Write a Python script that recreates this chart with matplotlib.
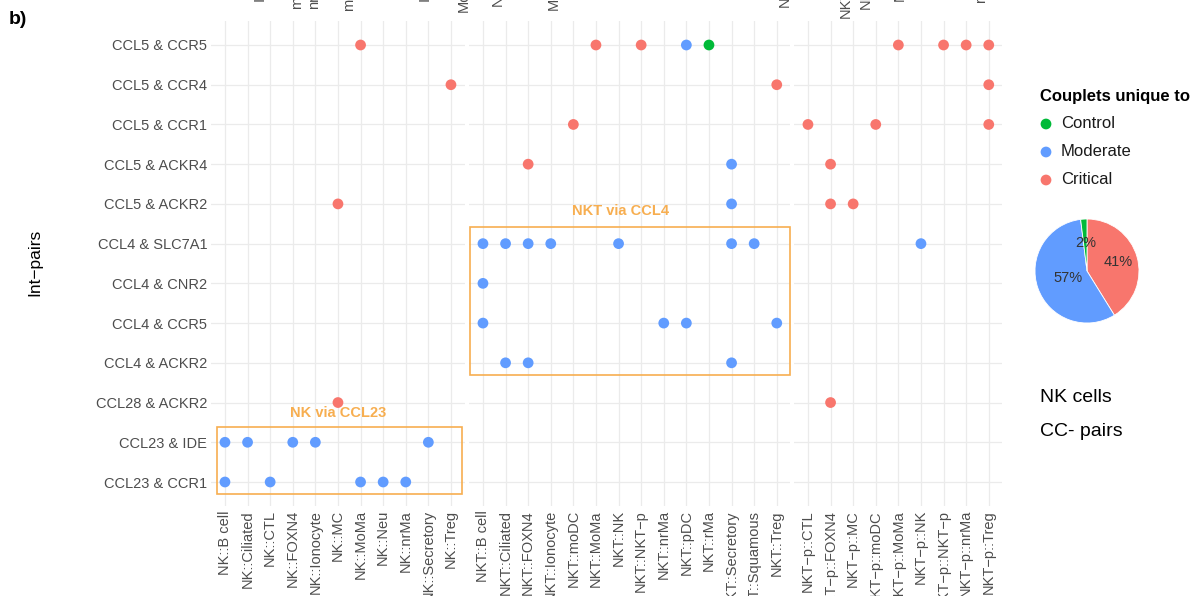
import matplotlib
matplotlib.use("Agg")
import matplotlib.pyplot as plt
from matplotlib.patches import Rectangle
from collections import Counter
import numpy as np

plt.rcParams['font.family'] = ['Liberation Sans', 'DejaVu Sans']

# interaction pairs, bottom to top (alphabetical, as the factor levels)
int_pairs = ["CCL23 & CCR1", "CCL23 & IDE", "CCL28 & ACKR2", "CCL4 & ACKR2",
             "CCL4 & CCR5", "CCL4 & CNR2", "CCL4 & SLC7A1", "CCL5 & ACKR2",
             "CCL5 & ACKR4", "CCL5 & CCR1", "CCL5 & CCR4", "CCL5 & CCR5"]

nk_cells = ["NK::B cell", "NK::Ciliated", "NK::CTL", "NK::FOXN4", "NK::Ionocyte",
            "NK::MC", "NK::MoMa", "NK::Neu", "NK::nrMa", "NK::Secretory", "NK::Treg"]
nkt_cells = ["NKT::B cell", "NKT::Ciliated", "NKT::FOXN4", "NKT::Ionocyte", "NKT::moDC",
             "NKT::MoMa", "NKT::NK", "NKT::NKT\u2212p", "NKT::nrMa", "NKT::pDC", "NKT::rMa",
             "NKT::Secretory", "NKT::Squamous", "NKT::Treg"]
nktp_cells = ["NKT\u2212p::CTL", "NKT\u2212p::FOXN4", "NKT\u2212p::MC", "NKT\u2212p::moDC",
              "NKT\u2212p::MoMa", "NKT\u2212p::NK", "NKT\u2212p::NKT\u2212p", "NKT\u2212p::nrMa",
              "NKT\u2212p::Treg"]

statuses = ["Control", "Moderate", "Critical"]
status_colors = {"Control": "#00BA38", "Moderate": "#619CFF", "Critical": "#F8766D"}

# (cell pair, interaction pair, condition where the couplet is unique)
couplets = [
    ("NK::MoMa", "CCL5 & CCR5", "Critical"),
    ("NKT::MoMa", "CCL5 & CCR5", "Critical"),
    ("NKT::NKT\u2212p", "CCL5 & CCR5", "Critical"),
    ("NKT::pDC", "CCL5 & CCR5", "Moderate"),
    ("NKT::rMa", "CCL5 & CCR5", "Control"),
    ("NKT\u2212p::MoMa", "CCL5 & CCR5", "Critical"),
    ("NKT\u2212p::NKT\u2212p", "CCL5 & CCR5", "Critical"),
    ("NKT\u2212p::nrMa", "CCL5 & CCR5", "Critical"),
    ("NKT\u2212p::Treg", "CCL5 & CCR5", "Critical"),
    ("NK::Treg", "CCL5 & CCR4", "Critical"),
    ("NKT::Treg", "CCL5 & CCR4", "Critical"),
    ("NKT\u2212p::Treg", "CCL5 & CCR4", "Critical"),
    ("NKT::moDC", "CCL5 & CCR1", "Critical"),
    ("NKT\u2212p::CTL", "CCL5 & CCR1", "Critical"),
    ("NKT\u2212p::moDC", "CCL5 & CCR1", "Critical"),
    ("NKT\u2212p::Treg", "CCL5 & CCR1", "Critical"),
    ("NKT::FOXN4", "CCL5 & ACKR4", "Critical"),
    ("NKT::Secretory", "CCL5 & ACKR4", "Moderate"),
    ("NKT\u2212p::FOXN4", "CCL5 & ACKR4", "Critical"),
    ("NK::MC", "CCL5 & ACKR2", "Critical"),
    ("NKT::Secretory", "CCL5 & ACKR2", "Moderate"),
    ("NKT\u2212p::FOXN4", "CCL5 & ACKR2", "Critical"),
    ("NKT\u2212p::MC", "CCL5 & ACKR2", "Critical"),
    ("NKT::B cell", "CCL4 & SLC7A1", "Moderate"),
    ("NKT::Ciliated", "CCL4 & SLC7A1", "Moderate"),
    ("NKT::FOXN4", "CCL4 & SLC7A1", "Moderate"),
    ("NKT::Ionocyte", "CCL4 & SLC7A1", "Moderate"),
    ("NKT::NK", "CCL4 & SLC7A1", "Moderate"),
    ("NKT::Secretory", "CCL4 & SLC7A1", "Moderate"),
    ("NKT::Squamous", "CCL4 & SLC7A1", "Moderate"),
    ("NKT\u2212p::NK", "CCL4 & SLC7A1", "Moderate"),
    ("NKT::B cell", "CCL4 & CNR2", "Moderate"),
    ("NKT::B cell", "CCL4 & CCR5", "Moderate"),
    ("NKT::nrMa", "CCL4 & CCR5", "Moderate"),
    ("NKT::pDC", "CCL4 & CCR5", "Moderate"),
    ("NKT::Treg", "CCL4 & CCR5", "Moderate"),
    ("NKT::Ciliated", "CCL4 & ACKR2", "Moderate"),
    ("NKT::FOXN4", "CCL4 & ACKR2", "Moderate"),
    ("NKT::Secretory", "CCL4 & ACKR2", "Moderate"),
    ("NK::MC", "CCL28 & ACKR2", "Critical"),
    ("NKT\u2212p::FOXN4", "CCL28 & ACKR2", "Critical"),
    ("NK::B cell", "CCL23 & IDE", "Moderate"),
    ("NK::Ciliated", "CCL23 & IDE", "Moderate"),
    ("NK::FOXN4", "CCL23 & IDE", "Moderate"),
    ("NK::Ionocyte", "CCL23 & IDE", "Moderate"),
    ("NK::Secretory", "CCL23 & IDE", "Moderate"),
    ("NK::B cell", "CCL23 & CCR1", "Moderate"),
    ("NK::CTL", "CCL23 & CCR1", "Moderate"),
    ("NK::MoMa", "CCL23 & CCR1", "Moderate"),
    ("NK::Neu", "CCL23 & CCR1", "Moderate"),
    ("NK::nrMa", "CCL23 & CCR1", "Moderate"),
]

# tails of the rotated labels of the panel above
top_labels = ["Ionocyte", "moDC", "nrMa", "moDC", "Ionocyte", "MoMa", "NK", "MoMa",
              "NK", "NKT", "NK", "NK", "rMa"]
top_label_x = [260, 297, 314, 349, 425, 464, 498, 554, 785, 846, 866, 900, 981]
top_label_bottom = [1, 9, 9, 11, 1, 12, 6, 10, 7, 18, 9, 1, 2]

W, H = 1204, 596
GREY = "#4d4d4d"
ORANGE = "#F7AE50"
UNIT_X = 22.6      # px per category
ROW_TOP, ROW_BOTTOM = 45, 482

fig = plt.figure(figsize=(W / 100, H / 100), dpi=100)

# full-figure layer in pixel coordinates for free text
over = fig.add_axes([0, 0, 1, 1])
over.set_xlim(0, W)
over.set_ylim(H, 0)
over.axis("off")

unit_y = (ROW_BOTTOM - ROW_TOP) / (len(int_pairs) - 1)
top_px = ROW_TOP - 0.6 * unit_y
bot_px = ROW_BOTTOM + 0.6 * unit_y

panels = [(nk_cells, 211.4), (nkt_cells, 469.4), (nktp_cells, 794.4)]
axes = []
for cells, left in panels:
    width = (len(cells) - 1 + 1.2) * UNIT_X
    ax = fig.add_axes([left / W, 1 - bot_px / H, width / W, (bot_px - top_px) / H])
    ax.set_xlim(-0.6, len(cells) - 0.4)
    ax.set_ylim(-0.6, len(int_pairs) - 0.4)
    ax.set_xticks(range(len(cells)))
    ax.set_xticklabels(cells, rotation=90, fontsize=10.5, color=GREY)
    ax.set_yticks(range(len(int_pairs)))
    if not axes:
        ax.set_yticklabels(int_pairs, fontsize=10.5, color=GREY)
    else:
        ax.set_yticklabels([])
    ax.tick_params(length=0, pad=3)
    for s in ax.spines.values():
        s.set_visible(False)
    ax.grid(True, color="#ebebeb", linewidth=0.9)
    ax.set_axisbelow(True)
    ax.patch.set_alpha(0)

    for st in statuses:
        pts = [(cells.index(c), int_pairs.index(p)) for c, p, s in couplets
               if s == st and c in cells]
        if pts:
            xs, ys = zip(*pts)
            ax.scatter(xs, ys, s=60, color=status_colors[st], edgecolors="none",
                       zorder=3, clip_on=False)
    axes.append(ax)

# highlighted groups
ax_nk, ax_nkt = axes[0], axes[1]
ax_nk.add_patch(Rectangle((-0.35, -0.3), 10.85, 1.68, fill=False, edgecolor=ORANGE,
                          linewidth=1.2, clip_on=False, zorder=4))
ax_nk.text(5, 1.73, "NK via CCL23", color=ORANGE, fontsize=10.5, fontweight="bold",
           ha="center", va="center")
ax_nkt.add_patch(Rectangle((-0.58, 2.7), 14.16, 3.73, fill=False, edgecolor=ORANGE,
                           linewidth=1.2, clip_on=False, zorder=4))
ax_nkt.text(6.1, 6.83, "NKT via CCL4", color=ORANGE, fontsize=10.5, fontweight="bold",
            ha="center", va="center")

# panel tag, axis title and cut-off labels
over.text(9, 20, "b)", fontsize=14, fontweight="bold", ha="left", va="center")
over.text(35, 262, "Int\u2212pairs", fontsize=12.5, rotation=90, ha="center", va="center")
for lab, x, b in zip(top_labels, top_label_x, top_label_bottom):
    over.text(x, b, lab, fontsize=10.5, color=GREY, rotation=90, ha="center",
              va="bottom")

# legend
over.text(1040, 96, "Couplets unique to", fontsize=12, fontweight="bold",
          ha="left", va="center")
for i, st in enumerate(statuses):
    y = 124 + i * 28
    over.scatter([1046], [y], s=60, color=status_colors[st], edgecolors="none")
    over.text(1061, y, st, fontsize=12, color="#1a1a1a", ha="left", va="center")

over.text(1040, 398, "NK cells", fontsize=14, ha="left", va="center")
over.text(1040, 431, "CC- pairs", fontsize=14, ha="left", va="center")

# share of couplets per condition
counts = Counter(s for _, _, s in couplets)
pie_order = ["Critical", "Moderate", "Control"]
sizes = [counts[s] for s in pie_order]
cx, cy, r = 1087, 271, 52
pax = fig.add_axes([(cx - r) / W, 1 - (cy + r) / H, 2 * r / W, 2 * r / H])
wedges, _, autotexts = pax.pie(sizes, colors=[status_colors[s] for s in pie_order],
                               startangle=90, counterclock=False, autopct="%1.0f%%",
                               wedgeprops=dict(edgecolor="white", linewidth=0.6),
                               textprops=dict(fontsize=10.5, color="#333333"))
for t, w, rad in zip(autotexts, wedges, [0.62, 0.39, 0.54]):
    ang = np.deg2rad((w.theta1 + w.theta2) / 2)
    t.set_position((rad * np.cos(ang), rad * np.sin(ang)))
pax.set_xlim(-1, 1)
pax.set_ylim(-1, 1)
pax.set_aspect("equal")

fig.savefig("out.png", dpi=100)
